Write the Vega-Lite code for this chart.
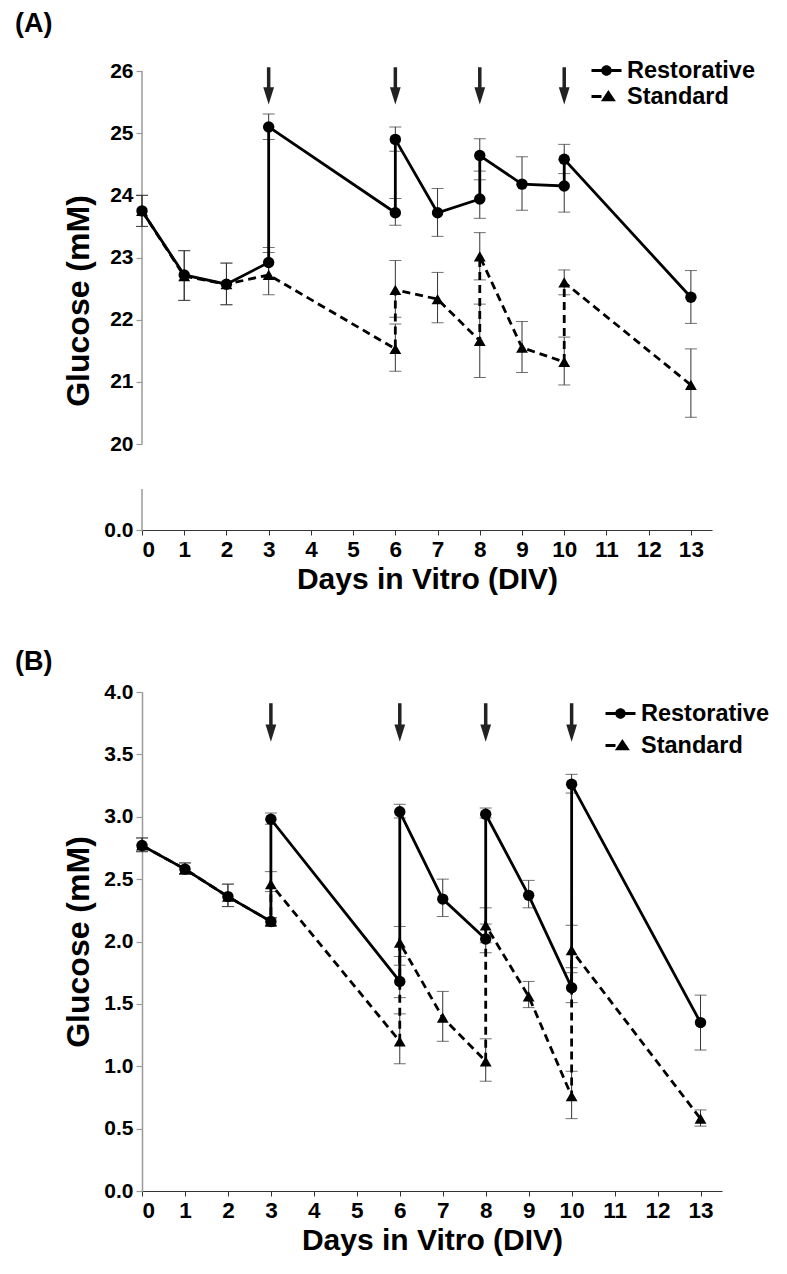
{
  "$schema": "https://vega.github.io/schema/vega-lite/v6.json",
  "padding": {"left": 15, "top": 10, "right": 5, "bottom": 5},
  "background": "white",
  "config": {
    "view": {"stroke": null},
    "axis": {"grid": false},
    "axisX": {"domainColor": "#333", "domainWidth": 1.2, "tickColor": "#333", "tickSize": 5,
      "labelFont": "Liberation Sans", "labelFontWeight": "bold", "labelFontSize": 22.5, "labelColor": "black", "labelPadding": 3,
      "titleFont": "Liberation Sans", "titleFontWeight": "bold", "titleFontSize": 30, "titleColor": "black", "titlePadding": 4},
    "axisY": {"domainColor": "#9a9a9a", "domainWidth": 1.5, "tickColor": "#9a9a9a", "tickSize": 6, "tickWidth": 1.2,
      "labelFont": "Liberation Sans", "labelFontWeight": "bold", "labelFontSize": 21, "labelColor": "black", "labelPadding": 3,
      "titleFont": "Liberation Sans", "titleFontWeight": "bold", "titleFontSize": 32, "titleColor": "black", "titlePadding": 8},
    "legend": {"title": null, "orient": "none", "labelFont": "Liberation Sans", "labelFontWeight": "bold", "labelColor": "black",
      "labelFontSize": 23.5, "labelOffset": 8, "symbolSize": 625, "symbolOpacity": 1, "symbolFillColor": "black", "symbolStrokeColor": "black", "symbolStrokeWidth": 0},
    "title": {"font": "Liberation Sans", "fontSize": 27, "fontWeight": "bold", "color": "black", "anchor": "start", "frame": "group"}
  },
  "datasets": {
    "A": [
      {"group": "Restorative", "seq": 1, "day": 0, "value": 23.75, "lo": 23.5, "hi": 24.0},
      {"group": "Restorative", "seq": 2, "day": 1, "value": 22.72, "lo": 22.31, "hi": 23.11},
      {"group": "Restorative", "seq": 3, "day": 2, "value": 22.57, "lo": 22.24, "hi": 22.91},
      {"group": "Restorative", "seq": 4, "day": 3, "value": 22.92, "lo": 22.68, "hi": 23.16},
      {"group": "Restorative", "seq": 5, "day": 3, "value": 25.10, "lo": 24.90, "hi": 25.31},
      {"group": "Restorative", "seq": 6, "day": 6, "value": 23.72, "lo": 23.52, "hi": 23.95},
      {"group": "Restorative", "seq": 7, "day": 6, "value": 24.90, "lo": 24.71, "hi": 25.10},
      {"group": "Restorative", "seq": 8, "day": 7, "value": 23.72, "lo": 23.34, "hi": 24.11},
      {"group": "Restorative", "seq": 9, "day": 8, "value": 23.94, "lo": 23.63, "hi": 24.25},
      {"group": "Restorative", "seq": 10, "day": 8, "value": 24.64, "lo": 24.39, "hi": 24.91},
      {"group": "Restorative", "seq": 11, "day": 9, "value": 24.18, "lo": 23.76, "hi": 24.62},
      {"group": "Restorative", "seq": 12, "day": 10, "value": 24.15, "lo": 23.73, "hi": 24.57},
      {"group": "Restorative", "seq": 13, "day": 10, "value": 24.58, "lo": 24.35, "hi": 24.82},
      {"group": "Restorative", "seq": 14, "day": 13, "value": 22.36, "lo": 21.94, "hi": 22.79},
      {"group": "Standard", "seq": 1, "day": 0, "value": 23.75, "lo": 23.5, "hi": 24.0},
      {"group": "Standard", "seq": 2, "day": 1, "value": 22.70, "lo": 22.31, "hi": 23.11},
      {"group": "Standard", "seq": 3, "day": 2, "value": 22.57, "lo": 22.24, "hi": 22.91},
      {"group": "Standard", "seq": 4, "day": 3, "value": 22.72, "lo": 22.40, "hi": 23.08},
      {"group": "Standard", "seq": 5, "day": 6, "value": 21.53, "lo": 21.17, "hi": 21.93},
      {"group": "Standard", "seq": 6, "day": 6, "value": 22.48, "lo": 22.04, "hi": 22.95},
      {"group": "Standard", "seq": 7, "day": 7, "value": 22.33, "lo": 21.95, "hi": 22.76},
      {"group": "Standard", "seq": 8, "day": 8, "value": 21.66, "lo": 21.07, "hi": 22.25},
      {"group": "Standard", "seq": 9, "day": 8, "value": 23.02, "lo": 22.64, "hi": 23.40},
      {"group": "Standard", "seq": 10, "day": 9, "value": 21.55, "lo": 21.15, "hi": 21.97},
      {"group": "Standard", "seq": 11, "day": 10, "value": 21.32, "lo": 20.95, "hi": 21.72},
      {"group": "Standard", "seq": 12, "day": 10, "value": 22.60, "lo": 22.40, "hi": 22.80},
      {"group": "Standard", "seq": 13, "day": 13, "value": 20.95, "lo": 20.43, "hi": 21.53}
    ],
    "B": [
      {"group": "Restorative", "seq": 1, "day": 0, "value": 2.77, "lo": 2.72, "hi": 2.83},
      {"group": "Restorative", "seq": 2, "day": 1, "value": 2.58, "lo": 2.54, "hi": 2.63},
      {"group": "Restorative", "seq": 3, "day": 2, "value": 2.36, "lo": 2.28, "hi": 2.46},
      {"group": "Restorative", "seq": 4, "day": 3, "value": 2.16, "lo": 2.13, "hi": 2.19},
      {"group": "Restorative", "seq": 5, "day": 3, "value": 2.98, "lo": 2.94, "hi": 3.03},
      {"group": "Restorative", "seq": 6, "day": 6, "value": 1.68, "lo": 1.55, "hi": 1.81},
      {"group": "Restorative", "seq": 7, "day": 6, "value": 3.04, "lo": 2.99, "hi": 3.10},
      {"group": "Restorative", "seq": 8, "day": 7, "value": 2.34, "lo": 2.20, "hi": 2.50},
      {"group": "Restorative", "seq": 9, "day": 8, "value": 2.02, "lo": 1.91, "hi": 2.14},
      {"group": "Restorative", "seq": 10, "day": 8, "value": 3.02, "lo": 2.99, "hi": 3.07},
      {"group": "Restorative", "seq": 11, "day": 9, "value": 2.37, "lo": 2.27, "hi": 2.49},
      {"group": "Restorative", "seq": 12, "day": 10, "value": 1.63, "lo": 1.51, "hi": 1.79},
      {"group": "Restorative", "seq": 13, "day": 10, "value": 3.26, "lo": 3.19, "hi": 3.34},
      {"group": "Restorative", "seq": 14, "day": 13, "value": 1.35, "lo": 1.13, "hi": 1.57},
      {"group": "Standard", "seq": 1, "day": 0, "value": 2.77, "lo": 2.72, "hi": 2.83},
      {"group": "Standard", "seq": 2, "day": 1, "value": 2.58, "lo": 2.54, "hi": 2.63},
      {"group": "Standard", "seq": 3, "day": 2, "value": 2.36, "lo": 2.28, "hi": 2.46},
      {"group": "Standard", "seq": 4, "day": 3, "value": 2.16, "lo": 2.13, "hi": 2.19},
      {"group": "Standard", "seq": 5, "day": 3, "value": 2.46, "lo": 2.40, "hi": 2.56},
      {"group": "Standard", "seq": 6, "day": 6, "value": 1.20, "lo": 1.02, "hi": 1.42},
      {"group": "Standard", "seq": 7, "day": 6, "value": 1.99, "lo": 1.88, "hi": 2.12},
      {"group": "Standard", "seq": 8, "day": 7, "value": 1.39, "lo": 1.20, "hi": 1.60},
      {"group": "Standard", "seq": 9, "day": 8, "value": 1.04, "lo": 0.88, "hi": 1.22},
      {"group": "Standard", "seq": 10, "day": 8, "value": 2.13, "lo": 1.99, "hi": 2.27},
      {"group": "Standard", "seq": 11, "day": 9, "value": 1.56, "lo": 1.47, "hi": 1.68},
      {"group": "Standard", "seq": 12, "day": 10, "value": 0.76, "lo": 0.58, "hi": 0.96},
      {"group": "Standard", "seq": 13, "day": 10, "value": 1.93, "lo": 1.75, "hi": 2.13},
      {"group": "Standard", "seq": 14, "day": 13, "value": 0.58, "lo": 0.52, "hi": 0.65}
    ],
    "arrowsA": [
      {"day": 3, "top": 26.06, "base": 25.72, "head": 25.6},
      {"day": 6, "top": 26.06, "base": 25.72, "head": 25.6},
      {"day": 8, "top": 26.06, "base": 25.72, "head": 25.6},
      {"day": 10, "top": 26.06, "base": 25.72, "head": 25.6}
    ],
    "arrowsB": [
      {"day": 3, "top": 3.91, "base": 3.72, "head": 3.67},
      {"day": 6, "top": 3.91, "base": 3.72, "head": 3.67},
      {"day": 8, "top": 3.91, "base": 3.72, "head": 3.67},
      {"day": 10, "top": 3.91, "base": 3.72, "head": 3.67}
    ],
    "axisA": [
      {"day": 0, "y1": 0, "y2": 1},
      {"day": 0, "y1": 20, "y2": 26}
    ]
  },
  "spacing": 53,
  "resolve": {"scale": {"shape": "independent"}, "legend": {"shape": "independent"}},
  "vconcat": [
    {
      "title": {"text": "(A)", "dx": -127, "offset": 20},
      "width": 570,
      "height": 459,
      "encoding": {
        "x": {"field": "day", "type": "quantitative", "title": "Days in Vitro (DIV)",
          "scale": {"domain": [0, 13.5], "nice": false, "zero": false},
          "axis": {"values": [0,1,2,3,4,5,6,7,8,9,10,11,12,13]}}
      },
      "layer": [
        {
          "data": {"name": "axisA"},
          "mark": {"type": "rule", "color": "#9a9a9a", "strokeWidth": 1.5},
          "encoding": {
            "y": {"field": "y1", "type": "quantitative", "title": "Glucose (mM)",
              "scale": {"domain": [0, 1, 20, 26], "range": [459, 418, 373, 0], "nice": false, "zero": false},
              "axis": {"values": [0, 20, 21, 22, 23, 24, 25, 26], "domain": false, "labelExpr": "datum.value == 0 ? '0.0' : datum.label"}},
            "y2": {"field": "y2"}
          }
        },
        {
          "data": {"name": "A"},
          "mark": {"type": "rule", "color": "#333", "strokeWidth": 1},
          "encoding": {
            "y": {"field": "lo", "type": "quantitative", "title": "Glucose (mM)",
              "scale": {"domain": [0, 1, 20, 26], "range": [459, 418, 373, 0], "nice": false, "zero": false},
              "axis": {"values": [0, 20, 21, 22, 23, 24, 25, 26], "domain": false, "labelExpr": "datum.value == 0 ? '0.0' : datum.label"}},
            "y2": {"field": "hi"}
          }
        },
        {
          "data": {"name": "A"},
          "transform": [{"fold": ["lo", "hi"], "as": ["cap", "capval"]}],
          "mark": {"type": "tick", "orient": "horizontal", "color": "#333", "size": 12, "thickness": 1},
          "encoding": {
            "y": {"field": "capval", "type": "quantitative", "title": "Glucose (mM)",
              "scale": {"domain": [0, 1, 20, 26], "range": [459, 418, 373, 0], "nice": false, "zero": false},
              "axis": {"values": [0, 20, 21, 22, 23, 24, 25, 26], "domain": false, "labelExpr": "datum.value == 0 ? '0.0' : datum.label"}}
          }
        },
        {
          "data": {"name": "A"},
          "transform": [{"filter": "datum.group === 'Standard'"}],
          "mark": {"type": "line", "color": "black", "strokeWidth": 2.8, "strokeDash": [8, 5]},
          "encoding": {
            "y": {"field": "value", "type": "quantitative", "title": "Glucose (mM)",
              "scale": {"domain": [0, 1, 20, 26], "range": [459, 418, 373, 0], "nice": false, "zero": false},
              "axis": {"values": [0, 20, 21, 22, 23, 24, 25, 26], "domain": false, "labelExpr": "datum.value == 0 ? '0.0' : datum.label"}},
            "order": {"field": "seq", "type": "quantitative"}
          }
        },
        {
          "data": {"name": "A"},
          "transform": [{"filter": "datum.group === 'Restorative'"}],
          "mark": {"type": "line", "color": "black", "strokeWidth": 2.8},
          "encoding": {
            "y": {"field": "value", "type": "quantitative", "title": "Glucose (mM)",
              "scale": {"domain": [0, 1, 20, 26], "range": [459, 418, 373, 0], "nice": false, "zero": false},
              "axis": {"values": [0, 20, 21, 22, 23, 24, 25, 26], "domain": false, "labelExpr": "datum.value == 0 ? '0.0' : datum.label"}},
            "order": {"field": "seq", "type": "quantitative"}
          }
        },
        {
          "data": {"name": "A"},
          "transform": [{"filter": "datum.group === 'Standard'"}],
          "mark": {"type": "point", "filled": true, "color": "black", "opacity": 1, "size": 140, "shape": "triangle-up"},
          "encoding": {
            "y": {"field": "value", "type": "quantitative", "title": "Glucose (mM)",
              "scale": {"domain": [0, 1, 20, 26], "range": [459, 418, 373, 0], "nice": false, "zero": false},
              "axis": {"values": [0, 20, 21, 22, 23, 24, 25, 26], "domain": false, "labelExpr": "datum.value == 0 ? '0.0' : datum.label"}}
          }
        },
        {
          "data": {"name": "A"},
          "transform": [{"filter": "datum.group === 'Restorative'"}],
          "mark": {"type": "point", "filled": true, "color": "black", "opacity": 1, "size": 130, "shape": "circle"},
          "encoding": {
            "y": {"field": "value", "type": "quantitative", "title": "Glucose (mM)",
              "scale": {"domain": [0, 1, 20, 26], "range": [459, 418, 373, 0], "nice": false, "zero": false},
              "axis": {"values": [0, 20, 21, 22, 23, 24, 25, 26], "domain": false, "labelExpr": "datum.value == 0 ? '0.0' : datum.label"}}
          }
        },
        {
          "data": {"name": "A"},
          "mark": {"type": "point", "filled": true, "color": "black", "opacity": 0, "size": 10},
          "encoding": {
            "y": {"field": "value", "type": "quantitative", "title": "Glucose (mM)",
              "scale": {"domain": [0, 1, 20, 26], "range": [459, 418, 373, 0], "nice": false, "zero": false},
              "axis": {"values": [0, 20, 21, 22, 23, 24, 25, 26], "domain": false, "labelExpr": "datum.value == 0 ? '0.0' : datum.label"}},
            "shape": {"field": "group", "type": "nominal",
              "scale": {"domain": ["Restorative", "Standard"], "range": [
                "M-1.2,-0.12H1.2V0.12H-1.2Z M0.42,0A0.42,0.42 0 1 1 -0.42,0A0.42,0.42 0 1 1 0.42,0Z",
                "M-1.2,-0.12H-0.4V0.12H-1.2Z M-0.45,0.38L0.15,-0.52L0.75,0.38Z"]},
              "legend": {"legendX": 452, "legendY": -13, "rowPadding": 2, "symbolOpacity": 1}}
          }
        },
        {
          "data": {"name": "arrowsA"},
          "mark": {"type": "rule", "color": "#222", "strokeWidth": 3.5},
          "encoding": {
            "y": {"field": "top", "type": "quantitative", "title": "Glucose (mM)",
              "scale": {"domain": [0, 1, 20, 26], "range": [459, 418, 373, 0], "nice": false, "zero": false},
              "axis": {"values": [0, 20, 21, 22, 23, 24, 25, 26], "domain": false, "labelExpr": "datum.value == 0 ? '0.0' : datum.label"}},
            "y2": {"field": "base"}
          }
        },
        {
          "data": {"name": "arrowsA"},
          "mark": {"type": "point", "filled": true, "color": "#222", "opacity": 1, "size": 300, "shape": "M-0.62,-1L0.62,-1L0,1Z"},
          "encoding": {
            "y": {"field": "head", "type": "quantitative", "title": "Glucose (mM)",
              "scale": {"domain": [0, 1, 20, 26], "range": [459, 418, 373, 0], "nice": false, "zero": false},
              "axis": {"values": [0, 20, 21, 22, 23, 24, 25, 26], "domain": false, "labelExpr": "datum.value == 0 ? '0.0' : datum.label"}}
          }
        }
      ]
    },
    {
      "title": {"text": "(B)", "dx": -127, "offset": 5},
      "width": 580,
      "height": 499,
      "encoding": {
        "x": {"field": "day", "type": "quantitative", "title": "Days in Vitro (DIV)",
          "scale": {"domain": [0, 13.5], "nice": false, "zero": false},
          "axis": {"values": [0,1,2,3,4,5,6,7,8,9,10,11,12,13]}}
      },
      "layer": [
        {
          "data": {"name": "B"},
          "mark": {"type": "rule", "color": "#333", "strokeWidth": 1},
          "encoding": {
            "y": {"field": "lo", "type": "quantitative", "title": "Glucose (mM)", "scale": {"domain": [0, 4], "nice": false, "zero": false},
              "axis": {"values": [0, 0.5, 1, 1.5, 2, 2.5, 3, 3.5, 4], "format": ".1f"}},
            "y2": {"field": "hi"}
          }
        },
        {
          "data": {"name": "B"},
          "transform": [{"fold": ["lo", "hi"], "as": ["cap", "capval"]}],
          "mark": {"type": "tick", "orient": "horizontal", "color": "#333", "size": 12, "thickness": 1},
          "encoding": {
            "y": {"field": "capval", "type": "quantitative", "title": "Glucose (mM)", "scale": {"domain": [0, 4], "nice": false, "zero": false},
              "axis": {"values": [0, 0.5, 1, 1.5, 2, 2.5, 3, 3.5, 4], "format": ".1f"}}
          }
        },
        {
          "data": {"name": "B"},
          "transform": [{"filter": "datum.group === 'Standard'"}],
          "mark": {"type": "line", "color": "black", "strokeWidth": 2.8, "strokeDash": [8, 5]},
          "encoding": {
            "y": {"field": "value", "type": "quantitative", "title": "Glucose (mM)", "scale": {"domain": [0, 4], "nice": false, "zero": false},
              "axis": {"values": [0, 0.5, 1, 1.5, 2, 2.5, 3, 3.5, 4], "format": ".1f"}},
            "order": {"field": "seq", "type": "quantitative"}
          }
        },
        {
          "data": {"name": "B"},
          "transform": [{"filter": "datum.group === 'Restorative'"}],
          "mark": {"type": "line", "color": "black", "strokeWidth": 2.8},
          "encoding": {
            "y": {"field": "value", "type": "quantitative", "title": "Glucose (mM)", "scale": {"domain": [0, 4], "nice": false, "zero": false},
              "axis": {"values": [0, 0.5, 1, 1.5, 2, 2.5, 3, 3.5, 4], "format": ".1f"}},
            "order": {"field": "seq", "type": "quantitative"}
          }
        },
        {
          "data": {"name": "B"},
          "transform": [{"filter": "datum.group === 'Standard'"}],
          "mark": {"type": "point", "filled": true, "color": "black", "opacity": 1, "size": 140, "shape": "triangle-up"},
          "encoding": {
            "y": {"field": "value", "type": "quantitative", "title": "Glucose (mM)", "scale": {"domain": [0, 4], "nice": false, "zero": false},
              "axis": {"values": [0, 0.5, 1, 1.5, 2, 2.5, 3, 3.5, 4], "format": ".1f"}}
          }
        },
        {
          "data": {"name": "B"},
          "transform": [{"filter": "datum.group === 'Restorative'"}],
          "mark": {"type": "point", "filled": true, "color": "black", "opacity": 1, "size": 130, "shape": "circle"},
          "encoding": {
            "y": {"field": "value", "type": "quantitative", "title": "Glucose (mM)", "scale": {"domain": [0, 4], "nice": false, "zero": false},
              "axis": {"values": [0, 0.5, 1, 1.5, 2, 2.5, 3, 3.5, 4], "format": ".1f"}}
          }
        },
        {
          "data": {"name": "B"},
          "mark": {"type": "point", "filled": true, "color": "black", "opacity": 0, "size": 10},
          "encoding": {
            "y": {"field": "value", "type": "quantitative", "title": "Glucose (mM)", "scale": {"domain": [0, 4], "nice": false, "zero": false},
              "axis": {"values": [0, 0.5, 1, 1.5, 2, 2.5, 3, 3.5, 4], "format": ".1f"}},
            "shape": {"field": "group", "type": "nominal",
              "scale": {"domain": ["Restorative", "Standard"], "range": [
                "M-1.2,-0.12H1.2V0.12H-1.2Z M0.42,0A0.42,0.42 0 1 1 -0.42,0A0.42,0.42 0 1 1 0.42,0Z",
                "M-1.2,-0.12H-0.4V0.12H-1.2Z M-0.45,0.38L0.15,-0.52L0.75,0.38Z"]},
              "legend": {"legendX": 466, "legendY": 9, "rowPadding": 8, "symbolOpacity": 1}}
          }
        },
        {
          "data": {"name": "arrowsB"},
          "mark": {"type": "rule", "color": "#222", "strokeWidth": 3.5},
          "encoding": {
            "y": {"field": "top", "type": "quantitative", "title": "Glucose (mM)", "scale": {"domain": [0, 4], "nice": false, "zero": false},
              "axis": {"values": [0, 0.5, 1, 1.5, 2, 2.5, 3, 3.5, 4], "format": ".1f"}},
            "y2": {"field": "base"}
          }
        },
        {
          "data": {"name": "arrowsB"},
          "mark": {"type": "point", "filled": true, "color": "#222", "opacity": 1, "size": 300, "shape": "M-0.62,-1L0.62,-1L0,1Z"},
          "encoding": {
            "y": {"field": "head", "type": "quantitative", "title": "Glucose (mM)", "scale": {"domain": [0, 4], "nice": false, "zero": false},
              "axis": {"values": [0, 0.5, 1, 1.5, 2, 2.5, 3, 3.5, 4], "format": ".1f"}}
          }
        }
      ]
    }
  ]
}
